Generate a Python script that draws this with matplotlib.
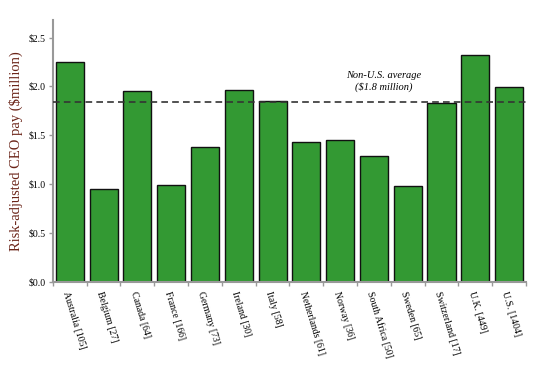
import matplotlib
matplotlib.use("Agg")
import matplotlib.pyplot as plt
import numpy as np

countries = ["Australia [105]", "Belgium [27]", "Canada [64]", "France [166]", "Germany [73]",
             "Ireland [30]", "Italy [58]", "Netherlands [61]", "Norway [36]", "South Africa [50]",
             "Sweden [65]", "Switzerland [17]", "U.K. [449]", "U.S. [1404]"]
pay = [2.25, 0.95, 1.95, 0.99, 1.38, 1.96, 1.85, 1.43, 1.45, 1.29, 0.98, 1.83, 2.32, 1.99]
non_us_avg = 1.84
yticks = [0.0, 0.5, 1.0, 1.5, 2.0, 2.5]
ytick_labels = ["$0.0", "$0.5", "$1.0", "$1.5", "$2.0", "$2.5"]

plt.rcParams['font.family'] = ['Liberation Serif', 'DejaVu Serif']

fig = plt.figure(figsize=(5.4, 3.69), dpi=100)
ax = fig.add_axes([0.098, 0.236, 0.876, 0.71])

x = np.arange(len(countries))
ax.bar(x, pay, width=0.83, color='#339933', edgecolor='#111111', linewidth=1.0, zorder=2)
ax.axhline(non_us_avg, color='#333333', linestyle=(0, (4, 2.5)), linewidth=1.2, zorder=3)
ax.text(9.3, 2.11, "Non-U.S. average", ha='center', va='center', fontsize=7.5, style='italic')
ax.text(9.3, 1.99, "($1.8 million)", ha='center', va='center', fontsize=7.5, style='italic')

ax.set_xlim(-0.5, len(countries) - 0.5)
ax.set_ylim(0, 2.68)
ax.set_yticks(yticks)
ax.set_yticklabels(ytick_labels, fontsize=7)
ax.set_xticks(x)
ax.set_xticklabels(countries, fontsize=7, rotation=-73, ha='left', rotation_mode='anchor')
ax.set_xticks(np.arange(len(countries) + 1) - 0.5, minor=True)
ax.tick_params(axis='x', which='major', length=0, pad=6)
ax.tick_params(axis='x', which='minor', length=3, color='#999999', width=1)
ax.tick_params(axis='y', length=3, color='#999999', width=1, pad=2)

for s in ['top', 'right']:
    ax.spines[s].set_visible(False)
for s in ['left', 'bottom']:
    ax.spines[s].set_color('#999999')
    ax.spines[s].set_linewidth(1.5)

ax.set_ylabel("Risk-adjusted CEO pay ($million)", fontsize=10.5, color='#6b2418', labelpad=4)

fig.savefig("out.png", dpi=100)
